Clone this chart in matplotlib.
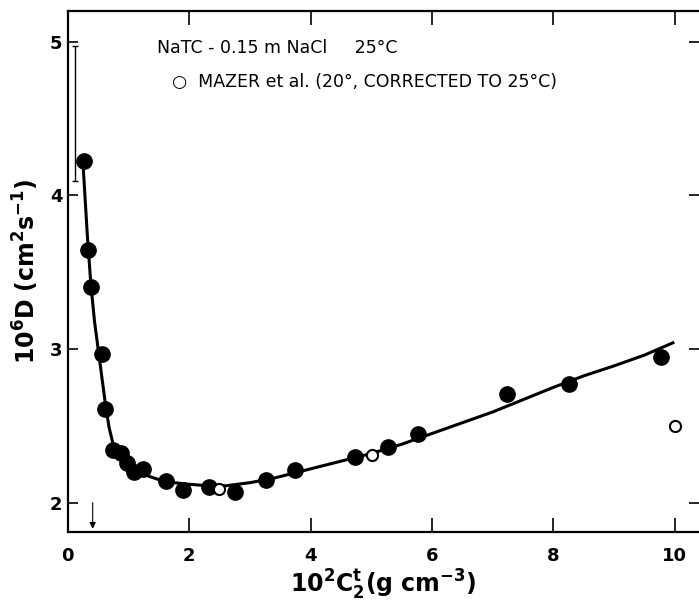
import numpy as np
import matplotlib
matplotlib.use("Agg")
import matplotlib.pyplot as plt

# measured points (filled), this work
conc = [0.26, 0.33, 0.38, 0.57, 0.62, 0.74, 0.88, 0.97, 1.09, 1.24,
        1.61, 1.89, 2.32, 2.75, 3.26, 3.75, 4.73, 5.27, 5.77, 7.23,
        8.25, 9.77]
diff = [4.22, 3.645, 3.40, 2.97, 2.61, 2.34, 2.32, 2.26, 2.20, 2.22,
        2.14, 2.08, 2.10, 2.07, 2.15, 2.21, 2.30, 2.36, 2.45, 2.71,
        2.77, 2.95]

# Mazer et al. (open circles)
mazer_conc = [2.49, 5.01, 10.0]
mazer_diff = [2.09, 2.31, 2.50]

# smooth curve drawn through the data
curve_x = [0.25, 0.32, 0.38, 0.44, 0.50, 0.56, 0.62, 0.68, 0.74, 0.82,
           0.92, 1.05, 1.20, 1.35, 1.50, 1.75, 2.00, 2.30, 2.60, 3.00,
           3.40, 3.80, 4.20, 4.60, 5.00, 5.50, 6.00, 6.50, 7.00, 7.50,
           8.00, 8.50, 9.00, 9.50, 9.97]
curve_y = [4.21, 3.75, 3.42, 3.18, 3.00, 2.82, 2.64, 2.49, 2.39, 2.32,
           2.27, 2.22, 2.19, 2.17, 2.15, 2.13, 2.12, 2.11, 2.11, 2.13,
           2.16, 2.20, 2.24, 2.28, 2.32, 2.38, 2.45, 2.52, 2.59, 2.67,
           2.75, 2.825, 2.89, 2.96, 3.04]

# error bar near the left axis and the cmc arrow
bar_x = 0.115
bar_lo, bar_hi = 4.09, 4.97
arrow_x = 0.41
arrow_top, arrow_bottom = 2.0, 1.83

fig = plt.figure(figsize=(6.99, 6.01), dpi=100)
ax = fig.add_axes([0.097, 0.115, 0.903, 0.867])

ax.plot(curve_x, curve_y, color="black", lw=2.2, zorder=2)
ax.plot(conc, diff, "o", color="black", ms=11, zorder=3)
ax.plot(mazer_conc, mazer_diff, "o", mfc="white", mec="black", mew=1.5,
        ms=8, zorder=4)

ax.errorbar([bar_x], [(bar_lo + bar_hi) / 2], yerr=[(bar_hi - bar_lo) / 2],
            fmt="none", ecolor="black", elinewidth=1.0, capsize=2.5,
            capthick=1.0)
ax.annotate("", xy=(arrow_x, arrow_bottom), xytext=(arrow_x, arrow_top),
            arrowprops=dict(arrowstyle="-|>", color="black", lw=0.8,
                            mutation_scale=9, shrinkA=0, shrinkB=0))

ax.text(0.141, 0.929, "NaTC - 0.15 m NaCl     25°C", transform=ax.transAxes,
        fontsize=12.5, va="center", ha="left")
ax.text(0.165, 0.864, "○  MAZER et al. (20°, CORRECTED TO 25°C)",
        transform=ax.transAxes, fontsize=12.5, va="center", ha="left")

ax.set_xlim(0, 10.4)
ax.set_ylim(1.81, 5.2)
ax.set_xticks([0, 2, 4, 6, 8, 10])
ax.set_yticks([2, 3, 4, 5])
ax.tick_params(axis="x", direction="in", length=10, width=1.2, top=True,
               pad=11, labelsize=13)
ax.tick_params(axis="y", direction="in", length=7, width=1.2, right=True,
               pad=4, labelsize=13)
for lab in ax.get_xticklabels() + ax.get_yticklabels():
    lab.set_fontweight("bold")
for side in ["left", "bottom", "top"]:
    ax.spines[side].set_linewidth(1.6)
ax.spines["right"].set_visible(False)

ax.set_xlabel(r"$\mathbf{10^2C_2^t(g\ cm^{-3})}$", fontsize=17, labelpad=2)
ax.set_ylabel(r"$\mathbf{10^6D\ (cm^2s^{-1})}$", fontsize=17, labelpad=6)

fig.savefig("out.png", dpi=100)
